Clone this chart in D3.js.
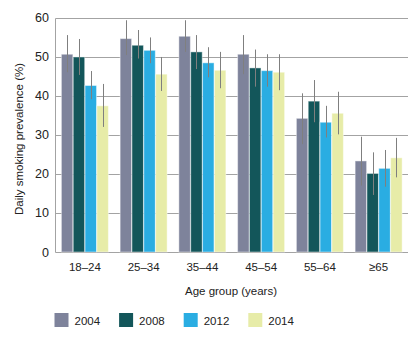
<!DOCTYPE html>
<html>
<head>
<meta charset="utf-8">
<script src="https://cdn.jsdelivr.net/npm/d3@7"></script>
<style>
  body { margin: 0; background: #fff; }
  svg { display: block; font-family: "Liberation Sans", Arial, sans-serif; }
</style>
</head>
<body>
<div id="chart"></div>
<script>
const ageGroups = ["18–24", "25–34", "35–44", "45–54", "55–64", "≥65"];
const years = ["2004", "2008", "2012", "2014"];
const colors = ["#7e839b", "#13565a", "#2aade2", "#e7eca8"];

// prevalence per year, in ageGroups order
const prev2004 = [50.6, 54.6, 55.2, 50.6, 34.2, 23.3];
const prev2008 = [49.9, 52.9, 51.2, 47.1, 38.6, 20.1];
const prev2012 = [42.6, 51.6, 48.4, 46.4, 33.2, 21.4];
const prev2014 = [37.4, 45.5, 46.5, 46.0, 35.5, 24.1];

// 95% CI lower / upper
const low2004 = [46.0, 50.4, 51.2, 45.5, 27.6, 17.0];
const up2004  = [55.5, 59.3, 59.3, 55.5, 40.6, 29.5];
const low2008 = [45.3, 49.5, 46.8, 42.3, 33.2, 14.6];
const up2008  = [54.5, 56.8, 55.5, 51.8, 44.0, 25.5];
const low2012 = [39.1, 48.3, 44.7, 42.3, 29.3, 16.7];
const up2012  = [46.3, 54.9, 52.4, 50.6, 37.4, 26.1];
const low2014 = [32.0, 41.2, 41.9, 41.4, 30.1, 19.1];
const up2014  = [43.0, 49.9, 51.2, 50.6, 41.0, 29.2];

const yTicks = [0, 10, 20, 30, 40, 50, 60];

const values = [prev2004, prev2008, prev2012, prev2014];
const lows = [low2004, low2008, low2012, low2014];
const ups = [up2004, up2008, up2012, up2014];

const rows = [];
ageGroups.forEach((g, i) => {
    years.forEach((yr, j) => {
        rows.push({group: g, year: yr, value: values[j][i], low: lows[j][i], up: ups[j][i], color: colors[j]});
    });
});

const width = 420, height = 337;
const plotLeft = 55.5, plotRight = 408, plotTop = 17.5, plotBottom = 252;

const svg = d3.select("#chart").append("svg")
    .attr("width", width)
    .attr("height", height);

const x0 = d3.scaleBand()
    .domain(ageGroups)
    .range([plotLeft, plotRight])
    .paddingInner(0.2)
    .paddingOuter(0.1);
const x1 = d3.scaleBand()
    .domain(years)
    .range([0, x0.bandwidth()])
    .paddingInner(0.03);
const y = d3.scaleLinear()
    .domain([0, 60])
    .range([plotBottom, plotTop]);

// gridlines
svg.append("g")
    .selectAll("line")
    .data(yTicks)
    .join("line")
    .attr("x1", plotLeft)
    .attr("x2", plotRight)
    .attr("y1", d => Math.round(y(d)) + 0.5)
    .attr("y2", d => Math.round(y(d)) + 0.5)
    .style("stroke", "#a3a3a3")
    .style("stroke-width", 1);

// y axis line
svg.append("line")
    .attr("x1", plotLeft).attr("x2", plotLeft)
    .attr("y1", Math.round(y(60)) + 0.5).attr("y2", Math.round(y(0)) + 0.5)
    .style("stroke", "#a3a3a3");

// y tick labels
svg.append("g")
    .selectAll("text")
    .data(yTicks)
    .join("text")
    .attr("x", 49)
    .attr("y", d => y(d) + 4.5)
    .attr("text-anchor", "end")
    .style("font-size", "12.5px")
    .style("fill", "#222")
    .text(d => d);

// bars
const bars = svg.append("g");
bars.selectAll("rect")
    .data(rows)
    .join("rect")
    .attr("x", d => x0(d.group) + x1(d.year))
    .attr("y", d => y(d.value))
    .attr("width", x1.bandwidth())
    .attr("height", d => y(0) - y(d.value))
    .style("fill", d => d.color)
    .style("stroke", "rgba(255,255,255,0.45)")
    .style("stroke-width", 1);

// error bars
bars.selectAll("line")
    .data(rows)
    .join("line")
    .attr("x1", d => Math.round(x0(d.group) + x1(d.year) + x1.bandwidth() / 2) + 0.5)
    .attr("x2", d => Math.round(x0(d.group) + x1(d.year) + x1.bandwidth() / 2) + 0.5)
    .attr("y1", d => y(d.up))
    .attr("y2", d => y(d.low))
    .style("stroke", "#7f7f7f")
    .style("stroke-width", 1);

// x tick labels
svg.append("g")
    .selectAll("text")
    .data(ageGroups)
    .join("text")
    .attr("x", d => x0(d) + x0.bandwidth() / 2)
    .attr("y", 271)
    .attr("text-anchor", "middle")
    .style("font-size", "11.5px")
    .style("fill", "#222")
    .text(d => d);

// axis titles
svg.append("text")
    .attr("x", 231)
    .attr("y", 295)
    .attr("text-anchor", "middle")
    .style("font-size", "11.5px")
    .style("fill", "#222")
    .text("Age group (years)");

svg.append("text")
    .attr("transform", "translate(23,139) rotate(-90)")
    .attr("text-anchor", "middle")
    .style("font-size", "11.5px")
    .style("fill", "#222")
    .text("Daily smoking prevalence (%)");

// legend
const legend = svg.append("g")
    .selectAll("g")
    .data(years)
    .join("g")
    .attr("transform", (d, i) => `translate(${54.5 + i * 64.6},313)`);
legend.append("rect")
    .attr("width", 14)
    .attr("height", 14)
    .style("fill", (d, i) => colors[i]);
legend.append("text")
    .attr("x", 20)
    .attr("y", 11.5)
    .style("font-size", "11.5px")
    .style("fill", "#222")
    .text(d => d);
</script>
</body>
</html>
